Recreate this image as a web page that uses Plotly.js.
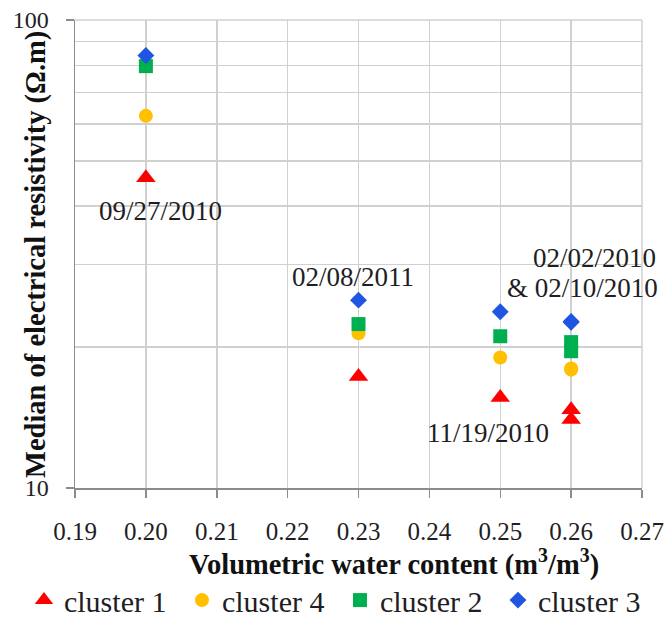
<!DOCTYPE html>
<html>
<head>
<meta charset="utf-8">
<script src="https://cdn.plot.ly/plotly-3.0.1.min.js"></script>
<style>
html,body{margin:0;padding:0;background:#fff;}
#chart{width:667px;height:618px;}
</style>
</head>
<body>
<div id="chart"></div>
<script>
// Volumetric water content (m3/m3)
const x1 = [0.20, 0.23, 0.25, 0.26, 0.26];
const cluster1 = [46.0, 17.3, 15.6, 14.7, 14.0];
const x4 = [0.20, 0.23, 0.25, 0.26, 0.26];
const cluster4 = [62.4, 21.4, 19.0, 18.0, 17.9];
const x2 = [0.20, 0.23, 0.25, 0.26, 0.26];
const cluster2 = [79.7, 22.4, 21.1, 20.5, 19.6];
const x3 = [0.20, 0.23, 0.25, 0.26, 0.26];
const cluster3 = [84.0, 25.2, 23.8, 22.7, 22.6];

const xTicks = [0.19, 0.20, 0.21, 0.22, 0.23, 0.24, 0.25, 0.26, 0.27];
const xTickText = ["0.19", "0.20", "0.21", "0.22", "0.23", "0.24", "0.25", "0.26", "0.27"];
const yTicks = [10, 100];
const yTickText = ["10", "100"];
const yMinor = [20, 30, 40, 50, 60, 70, 80, 90];

const dateLabels = ["09/27/2010", "02/08/2011", "02/02/2010", "& 02/10/2010", "11/19/2010"];
const xTitle = "<b>Volumetric water content (m<sup>3</sup>/m<sup>3</sup>)</b>";
const yTitle = "<b>Median of electrical resistivity (Ω.m)</b>";

const FONT = "Liberation Serif, Times New Roman, serif";
const TXT = "#1e1e24";

const traces = [
  {x: x1, y: cluster1, name: "cluster 1", mode: "markers", type: "scatter",
   marker: {symbol: "triangle-up", size: 17, color: "#ff0000"}},
  {x: x4, y: cluster4, name: "cluster 4", mode: "markers", type: "scatter",
   marker: {symbol: "circle", size: 14, color: "#ffc000"}},
  {x: x2, y: cluster2, name: "cluster 2", mode: "markers", type: "scatter",
   marker: {symbol: "square", size: 14, color: "#00b050"}},
  {x: x3, y: cluster3, name: "cluster 3", mode: "markers", type: "scatter",
   marker: {symbol: "diamond", size: 13, color: "#1f55e0"}}
];

const labelPos = [
  {x: 0.150, y: 0.592, xanchor: "center"},
  {x: 0.490, y: 0.451, xanchor: "center"},
  {x: 1.029, y: 0.491, xanchor: "right"},
  {x: 1.032, y: 0.427, xanchor: "right"},
  {x: 0.728, y: 0.1175, xanchor: "center"}
];

const annotations = dateLabels.map((t, i) => ({
  text: t, x: labelPos[i].x, y: labelPos[i].y, xref: "paper", yref: "paper",
  xanchor: labelPos[i].xanchor, yanchor: "middle", showarrow: false,
  font: {family: FONT, size: 27, color: TXT}
}));
annotations.push({
  text: xTitle, x: 0.5626, y: -0.159, xref: "paper", yref: "paper",
  xanchor: "center", yanchor: "middle", showarrow: false,
  font: {family: FONT, size: 28.5, color: "#111"}
});
annotations.push({
  text: yTitle, x: -0.0688, y: 0.5, xref: "paper", yref: "paper", textangle: -90,
  xanchor: "center", yanchor: "middle", showarrow: false,
  font: {family: FONT, size: 28.5, color: "#111"}
});

const layout = {
  width: 667, height: 618,
  margin: {l: 75, r: 25, t: 20, b: 130, autoexpand: false},
  paper_bgcolor: "#ffffff",
  plot_bgcolor: "#ffffff",
  font: {family: FONT, color: TXT, size: 24},
  showlegend: true,
  legend: {orientation: "h", x: -0.09, xanchor: "left",
           y: -0.2395, yanchor: "middle",
           font: {family: FONT, size: 30, color: TXT}, itemwidth: 30, tracegroupgap: 0,
           entrywidth: 113, entrywidthmode: "pixels"},
  xaxis: {
    range: [0.19, 0.27],
    tickmode: "array", tickvals: xTicks, ticktext: xTickText,
    showgrid: true, gridcolor: "#d0d0d0", gridwidth: 1.5,
    showline: true, linecolor: "#8c8c8c", linewidth: 1.5,
    ticks: "outside", ticklen: 8, tickcolor: "#8c8c8c", tickwidth: 1.5,
    ticklabelstandoff: 12,
    tickfont: {family: FONT, size: 25, color: TXT},
    zeroline: false, automargin: false
  },
  yaxis: {
    type: "log", range: [1, 2],
    tickmode: "array", tickvals: yTicks, ticktext: yTickText,
    showgrid: true, gridcolor: "#d0d0d0", gridwidth: 1.5,
    minor: {tickmode: "array", tickvals: yMinor, showgrid: true, gridcolor: "#d0d0d0", gridwidth: 1.5, ticks: ""},
    showline: true, linecolor: "#8c8c8c", linewidth: 1.5,
    ticks: "outside", ticklen: 8, tickcolor: "#8c8c8c", tickwidth: 1.5,
    ticklabelstandoff: 12,
    tickfont: {family: FONT, size: 24, color: TXT},
    zeroline: false, automargin: false
  },
  shapes: [
    {type: "line", xref: "paper", yref: "paper", x0: 1, x1: 1, y0: 0, y1: 1,
     line: {color: "#d0d0d0", width: 1.5}},
    {type: "line", xref: "paper", yref: "paper", x0: 0, x1: 1, y0: 1, y1: 1,
     line: {color: "#d0d0d0", width: 1.5}}
  ],
  annotations: annotations
};

Plotly.newPlot("chart", traces, layout, {displayModeBar: false, staticPlot: true});
</script>
</body>
</html>
